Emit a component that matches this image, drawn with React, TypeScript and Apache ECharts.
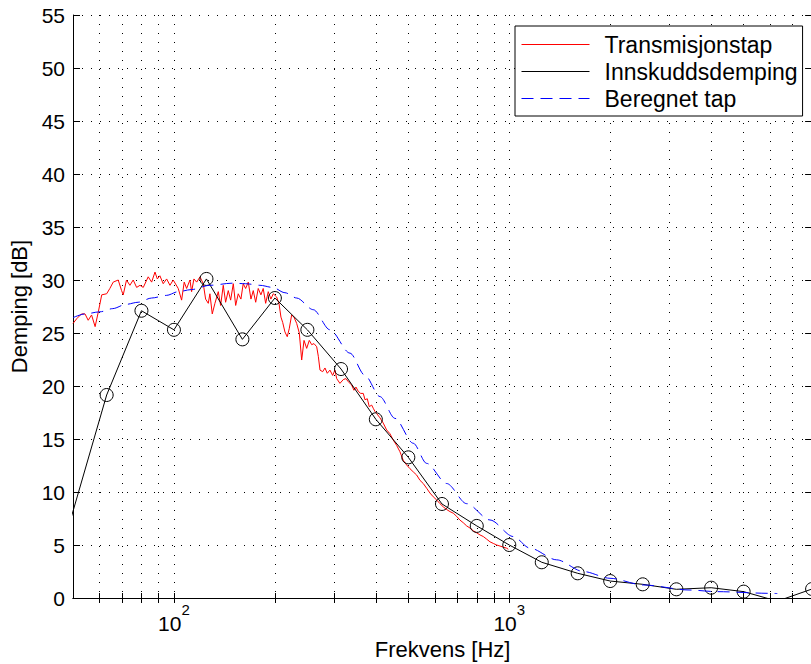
import React, { useEffect, useRef } from 'react';
import * as echarts from 'echarts';

// Insertion loss, third-octave band centres (Hz) and levels (dB)
const bandFreqs = [40, 63, 80, 100, 125, 160, 200, 250, 315, 400, 500, 630, 800, 1000, 1250, 1600, 2000, 2500, 3150, 4000, 5000, 6300, 8000];
const insertionLoss = [-2.4, 19.15, 27.1, 25.3, 30.1, 24.4, 28.3, 25.3, 21.6, 16.86, 13.27, 8.87, 6.8, 5.0, 3.37, 2.33, 1.6, 1.29, 0.82, 0.97, 0.6, -0.3, 0.85];

// Narrow-band transmission loss (Hz, dB)
const tlFreqs = [
  50.0, 51.3, 53.0, 54.3, 55.5, 56.8, 58.2, 59.5, 60.9, 63.0,
  64.4, 65.9, 68.2, 69.8, 70.6, 72.2, 73.9, 75.6, 77.4, 79.2,
  81.0, 83.8, 85.8, 87.8, 89.2, 90.8, 92.9, 95.1, 97.3, 99.5,
  103.0, 105.4, 107.3, 109.1, 111.6, 112.9, 114.7, 116.9, 119.6, 122.3,
  124.3, 126.6, 128.0, 130.1, 132.5, 135.6, 137.8, 140.3, 142.6, 145.2,
  147.6, 150.3, 152.8, 155.5, 158.4, 160.9, 163.6, 166.6, 169.7, 172.4,
  175.3, 178.4, 181.7, 184.6, 187.7, 191.1, 194.6, 197.8, 202.4, 205.7,
  208.5, 211.0, 214.3, 217.7, 220.7, 224.4, 228.0, 232.3, 236.5, 240.4,
  244.3, 248.8, 253.3, 257.5, 261.6, 266.5, 269.5, 272.6, 277.7, 282.1,
  286.6, 291.9, 297.4, 302.1, 305.7, 312.6, 319.8, 325.8, 331.0, 338.8,
  344.2, 349.0, 354.5, 360.5, 367.0, 371.3, 377.2, 382.4, 388.7, 393.0,
  397.6, 402.3, 411.5, 420.9, 430.8, 440.7, 450.8, 461.4, 472.0, 482.8,
  494.3, 505.6, 517.2, 529.4, 541.6, 554.0, 567.1, 580.1, 593.4, 607.4,
  621.4, 635.6, 650.6, 665.5, 680.8, 696.8, 712.8, 729.2, 746.4, 763.5,
  781.0, 799.5, 817.8, 836.6, 856.3, 876.0, 896.1, 917.3, 938.3, 959.8,
  982.3, 993.2,
];
const tlValues = [
  25.9, 26.35, 26.8, 26.8, 26.2, 26.7, 25.6, 27.0, 28.6, 28.7,
  29.2, 29.8, 30.0, 29.0, 28.6, 30.0, 29.5, 30.0, 29.3, 29.5,
  29.3, 30.3, 29.8, 30.75, 30.1, 30.4, 29.65, 30.1, 29.5, 30.0,
  29.2, 28.1, 29.8, 29.2, 30.0, 28.9, 30.1, 29.8, 30.3, 29.65,
  28.2, 27.8, 28.7, 26.8, 27.8, 28.9, 27.6, 29.5, 27.9, 29.0,
  28.1, 29.65, 27.6, 28.7, 28.2, 29.65, 29.2, 29.8, 28.2, 29.0,
  27.9, 29.2, 28.6, 29.2, 27.8, 28.9, 28.2, 28.7, 28.4, 27.8,
  26.5, 26.0, 25.1, 24.65, 25.4, 26.7, 26.5, 25.9, 25.0, 22.45,
  24.3, 23.55, 24.3, 23.9, 24.0, 23.7, 22.8, 21.5, 21.35, 21.7,
  21.2, 21.5, 21.0, 21.5, 20.7, 20.25, 20.6, 20.7, 20.4, 20.1,
  19.6, 19.9, 19.5, 19.3, 19.3, 18.7, 18.8, 18.05, 18.2, 17.9,
  17.6, 17.4, 17.0, 16.5, 15.85, 15.5, 14.9, 14.4, 13.8, 13.0,
  12.55, 12.2, 11.9, 11.6, 11.1, 10.8, 10.35, 9.9, 9.55, 9.25,
  8.9, 8.6, 8.35, 8.15, 8.0, 7.7, 7.35, 7.1, 6.8, 6.6,
  6.35, 6.15, 5.95, 5.8, 5.55, 5.3, 5.15, 5.0, 4.9, 4.8,
  4.7, 4.6,
];

// Calculated loss (Hz, dB)
const calcFreqs = [50, 54.3, 60.2, 65.7, 71.9, 78.2, 85.8, 95.1, 103.0, 112.9, 128.0, 149.3, 163.6, 180.5, 197.0, 214.3, 232.3, 260.3, 291.9, 334.9, 371.3, 411.5, 456.1, 517.2, 567.1, 650.6, 746.4, 876.0, 1027.8, 1152.8, 1384.6, 1662.2, 1997.0, 2509.0, 3458.6, 4155.5, 5991, 6300];
const calcValues = [26.45, 26.8, 27.0, 27.3, 27.7, 27.9, 28.3, 28.55, 28.9, 29.1, 29.5, 29.7, 29.65, 29.5, 29.3, 28.8, 28.3, 27.2, 25.3, 23.1, 21.0, 19.0, 16.95, 14.6, 12.7, 10.8, 8.9, 7.36, 5.8, 4.7, 3.6, 2.5, 1.86, 1.23, 0.75, 0.6, 0.44, 0.42];

// Log-axis grid positions and labelled decades
const gridFreqs = [60, 70, 80, 90, 100, 200, 300, 400, 500, 600, 700, 800, 900, 1000, 2000, 3000, 4000, 5000, 6000, 7000];
const decadeLabels = [100, 1000];
const freqRange = [50, 8000];
const dbRange = [0, 55];
const dbStep = 5;

const CHART_W = 830;
const CHART_H = 664;
const FONT = '"Liberation Sans", Arial, Helvetica, sans-serif';
const DOTTED = [1, 8];

export default function App() {
  const ref = useRef<HTMLDivElement>(null);

  useEffect(() => {
    if (!ref.current) return;
    const chart = echarts.init(ref.current, undefined, { renderer: 'svg' });

    const pairs = (xs: number[], ys: number[]) => xs.map((x, i) => [x, ys[i]]);

    const option: any = {
      animation: false,
      backgroundColor: '#fff',
      textStyle: { fontFamily: FONT, color: '#000' },
      grid: {
        left: 73,
        top: 15,
        right: CHART_W - 812.1,
        bottom: CHART_H - 598,
        containLabel: false,
        outerBoundsMode: 'none',
      },
      legend: {
        orient: 'vertical',
        left: 515,
        top: 26,
        backgroundColor: '#fff',
        borderColor: '#000',
        borderWidth: 1,
        borderRadius: 0,
        padding: [7, 5, 6, 6],
        itemWidth: 68,
        itemHeight: 14,
        itemGap: 4,
        selectedMode: false,
        itemStyle: { opacity: 0 },
        lineStyle: { width: 1 },
        textStyle: { fontFamily: FONT, fontSize: 23, color: '#000', lineHeight: 23, padding: [0, 0, 0, 10] },
        data: ['Transmisjonstap', 'Innskuddsdemping', 'Beregnet tap'],
        z: 10,
      },
      xAxis: [
        {
          type: 'log',
          logBase: 10,
          min: freqRange[0],
          max: freqRange[1],
          position: 'bottom',
          name: 'Frekvens [Hz]',
          nameLocation: 'middle',
          nameGap: 38,
          nameTextStyle: { fontFamily: FONT, fontSize: 22, color: '#000' },
          axisLine: { show: true, lineStyle: { color: '#000', width: 1 } },
          axisTick: { show: true, inside: true, length: 5, customValues: gridFreqs, lineStyle: { color: '#000' } },
          axisLabel: {
            show: true,
            customValues: decadeLabels,
            margin: 4,
            formatter: (v: number) => `{b|10}{s|${Math.round(Math.log10(v))}}`,
            rich: {
              b: { fontFamily: FONT, fontSize: 21, color: '#000', lineHeight: 32, verticalAlign: 'bottom' },
              s: { fontFamily: FONT, fontSize: 15, color: '#000', lineHeight: 6, verticalAlign: 'top' },
            },
          },
          splitLine: { show: true, lineStyle: { color: '#000', width: 1, type: DOTTED } },
          minorTick: { show: false },
        },
        {
          type: 'log',
          logBase: 10,
          min: freqRange[0],
          max: freqRange[1],
          position: 'top',
          axisLine: { show: true, lineStyle: { color: '#000', width: 1 } },
          axisTick: { show: true, inside: true, length: 5, customValues: gridFreqs, lineStyle: { color: '#000' } },
          axisLabel: { show: false },
          splitLine: { show: false },
        },
      ],
      yAxis: [
        {
          type: 'value',
          min: dbRange[0],
          max: dbRange[1],
          interval: dbStep,
          position: 'left',
          name: 'Demping [dB]',
          nameLocation: 'middle',
          nameGap: 41,
          nameRotate: 90,
          nameTextStyle: { fontFamily: FONT, fontSize: 22, color: '#000' },
          axisLine: { show: true, lineStyle: { color: '#000', width: 1 } },
          axisTick: { show: true, inside: true, length: 7, lineStyle: { color: '#000' } },
          axisLabel: { fontFamily: FONT, fontSize: 21, color: '#000', margin: 8 },
          splitLine: { show: true, lineStyle: { color: '#000', width: 1, type: DOTTED } },
        },
        {
          type: 'value',
          min: dbRange[0],
          max: dbRange[1],
          interval: dbStep,
          position: 'right',
          axisLine: { show: true, lineStyle: { color: '#000', width: 1 } },
          axisTick: { show: true, inside: true, length: 7, lineStyle: { color: '#000' } },
          axisLabel: { show: false },
          splitLine: { show: false },
        },
      ],
      series: [
        {
          name: 'Transmisjonstap',
          type: 'line',
          xAxisIndex: 0,
          yAxisIndex: 0,
          data: pairs(tlFreqs, tlValues),
          symbol: 'none',
          showSymbol: false,
          lineStyle: { color: '#ff0000', width: 1 },
          itemStyle: { color: '#ff0000' },
          z: 3,
        },
        {
          name: 'Innskuddsdemping',
          type: 'line',
          xAxisIndex: 0,
          yAxisIndex: 0,
          data: pairs(bandFreqs, insertionLoss),
          symbol: 'circle',
          symbolSize: 13,
          showSymbol: true,
          itemStyle: { color: 'rgba(0,0,0,0)', borderColor: '#000', borderWidth: 1 },
          lineStyle: { color: '#000', width: 1 },
          z: 4,
        },
        {
          name: 'Beregnet tap',
          type: 'line',
          xAxisIndex: 0,
          yAxisIndex: 0,
          data: pairs(calcFreqs, calcValues),
          symbol: 'none',
          showSymbol: false,
          smooth: 0.3,
          smoothMonotone: 'x',
          lineStyle: { color: '#0000ff', width: 1, type: [12, 7] },
          itemStyle: { color: '#0000ff' },
          z: 5,
        },
      ],
    };

    chart.setOption(option);
    return () => chart.dispose();
  }, []);

  return (
    <div style={{ position: 'absolute', left: 0, top: 0, width: 811, height: 664, overflow: 'hidden', background: '#fff' }}>
      <div ref={ref} style={{ width: CHART_W, height: CHART_H }} />
    </div>
  );
}
